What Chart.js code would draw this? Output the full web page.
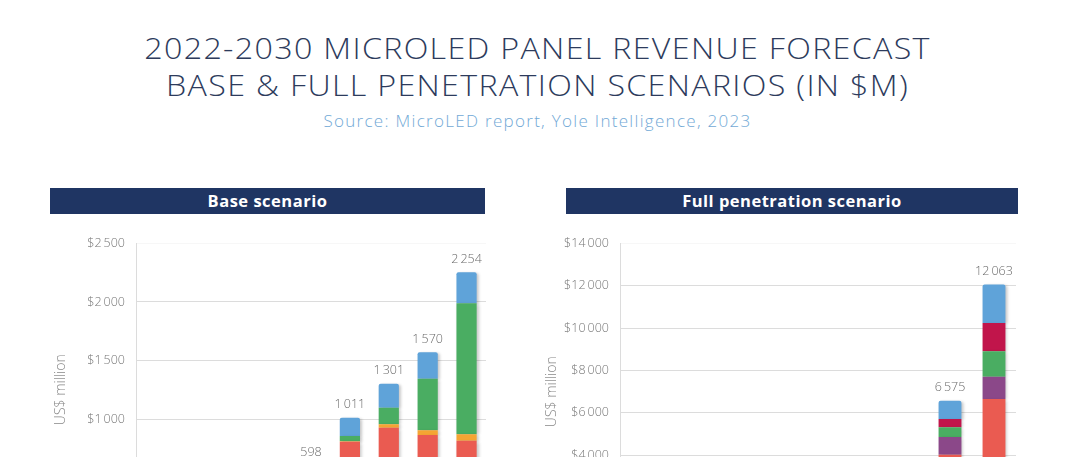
<!DOCTYPE html>
<html>
<head>
<meta charset="utf-8">
<script src="https://cdn.jsdelivr.net/npm/chart.js@4"></script>
<style>
  html, body { margin: 0; padding: 0; background: #fff; overflow: hidden; }
  body { width: 1075px; height: 457px; position: relative; font-family: "Open Sans", sans-serif; }
  .title { position: absolute; left: 0; width: 1075px; text-align: center; color: #2d3b5c; font-weight: 300; font-size: 29px; line-height: 37px; top: 29px; letter-spacing: 1.2px; transform: scaleX(1.11); transform-origin: 537px 0; }
  .source { position: absolute; left: 0; width: 1075px; text-align: center; color: #72a9d6; font-weight: 300; font-size: 17px; top: 109px; letter-spacing: 1.3px; }
  .bar { position: absolute; top: 188px; height: 26px; background: #1f3563; color: #fff; font-weight: 700; font-size: 16.5px; line-height: 26px; text-align: center; letter-spacing: 0.5px; }
  .box { position: absolute; top: 225px; }
</style>
</head>
<body>
<div class="title">2022-2030 MICROLED PANEL REVENUE FORECAST<br>BASE &amp; FULL PENETRATION SCENARIOS (IN $M)</div>
<div class="source">Source: MicroLED report, Yole Intelligence, 2023</div>

<div class="bar" style="left:50px;width:435px;">Base scenario</div>
<div class="bar" style="left:566px;width:452px;">Full penetration scenario</div>

<div class="box" style="left:40px;width:460px;height:351px;"><canvas id="base"></canvas></div>
<div class="box" style="left:540px;width:535px;height:355px;"><canvas id="full"></canvas></div>

<script>
const years = ["2022", "2023", "2024", "2025", "2026", "2027", "2028", "2029", "2030"];

// Base scenario (US$ million), bottom to top
const baseRed    = [2, 9, 52, 205, 520, 805, 926, 864, 814];
const baseOrange = [0, 0, 1, 3, 6, 5, 29, 40, 56];
const baseGreen  = [0, 0, 2, 10, 22, 45, 141, 441, 1120];
const baseBlue   = [0, 1, 5, 22, 50, 156, 205, 225, 264];

// Full penetration scenario (US$ million), bottom to top
const fullRed     = [2, 12, 45, 180, 620, 1250, 1800, 4020, 6660];
const fullPurple  = [0, 1, 5, 25, 90, 220, 350, 840, 1050];
const fullGreen   = [0, 0, 3, 12, 45, 120, 200, 467, 1200];
const fullCrimson = [0, 0, 2, 10, 40, 110, 170, 389, 1340];
const fullBlue    = [0, 2, 8, 30, 105, 250, 330, 859, 1813];

const baseTicks = [0, 500, 1000, 1500, 2000, 2500];
const fullTicks = [0, 2000, 4000, 6000, 8000, 10000, 12000, 14000];

const RED = "#ea5b51", ORANGE = "#f5a533", GREEN = "#4aad62", BLUE = "#5fa3d9";
const CRIMSON = "#c1154b", PURPLE = "#8b4889";

function fmt(n) {
  return String(Math.round(n)).replace(/\B(?=(\d{3})+(?!\d))/g, "\u2009");
}

// soft drop shadow behind the bars
const shadowPlugin = {
  id: "shadow",
  beforeDatasetsDraw(chart) {
    const ctx = chart.ctx;
    ctx.save();
    ctx.shadowColor = "rgba(0,0,0,0.22)";
    ctx.shadowBlur = 3;
    ctx.shadowOffsetX = 2;
    ctx.shadowOffsetY = 1;
  },
  afterDatasetsDraw(chart) {
    chart.ctx.restore();
  },
};

// totals above each stack
const totalsPlugin = {
  id: "totals",
  afterDatasetsDraw(chart) {
    const ctx = chart.ctx;
    const last = chart.data.datasets.length - 1;
    const meta = chart.getDatasetMeta(last);
    ctx.save();
    ctx.font = "300 12.5px 'Open Sans'";
    ctx.fillStyle = "#6b6b6b";
    ctx.textAlign = "center";
    ctx.textBaseline = "bottom";
    meta.data.forEach((bar, i) => {
      const total = chart.data.datasets.reduce((s, d) => s + d.data[i], 0);
      ctx.fillText(fmt(total), bar.x, bar.y - 7);
    });
    ctx.restore();
  },
};

function makeChart(el, series, ticks, yWidth, titlePad, padRight) {
  const lastIdx = series.length - 1;
  return new Chart(el, {
    type: "bar",
    data: {
      labels: years,
      datasets: series.map((s, i) => ({
        label: s.label,
        data: s.data,
        backgroundColor: s.color,
        barPercentage: 0.52,
        categoryPercentage: 1,
        borderRadius: i === lastIdx ? { topLeft: 2, topRight: 2 } : 0,
        borderSkipped: false,
      })),
    },
    options: {
      responsive: true,
      maintainAspectRatio: false,
      animation: false,
      layout: { padding: { top: 14, right: padRight, bottom: 0, left: 0 } },
      plugins: { legend: { display: false }, tooltip: { enabled: false } },
      scales: {
        x: {
          stacked: true,
          grid: { display: false },
          border: { display: false },
          ticks: { color: "#777", font: { family: "Open Sans", size: 11 } },
          afterFit(scale) { scale.height = 40; },
        },
        y: {
          stacked: true,
          min: 0,
          max: ticks[ticks.length - 1],
          afterBuildTicks(scale) { scale.ticks = ticks.map(v => ({ value: v })); },
          afterFit(scale) { scale.width = yWidth; },
          grid: {
            color: ctx => (ctx.tick && ctx.tick.value === ticks[ticks.length - 1]) ? "rgba(0,0,0,0.03)" : "#dcdcdc",
            drawTicks: false,
          },
          border: { display: true, color: "#dcdcdc" },
          ticks: {
            color: "#777",
            padding: 11,
            font: { family: "Open Sans", size: 12.5, weight: 300 },
            callback: v => "$" + fmt(v),
          },
          title: {
            display: true,
            text: "US$ million",
            color: "#888",
            padding: { top: titlePad, bottom: 0 },
            font: { family: "Open Sans", size: 14, weight: 300 },
          },
        },
      },
    },
    plugins: [shadowPlugin, totalsPlugin],
  });
}

makeChart(document.getElementById("base"), [
  { label: "Segment 1", data: baseRed, color: RED },
  { label: "Segment 2", data: baseOrange, color: ORANGE },
  { label: "Segment 3", data: baseGreen, color: GREEN },
  { label: "Segment 4", data: baseBlue, color: BLUE },
], baseTicks, 96, 13, 14);

makeChart(document.getElementById("full"), [
  { label: "Segment 1", data: fullRed, color: RED },
  { label: "Segment 5", data: fullPurple, color: PURPLE },
  { label: "Segment 3", data: fullGreen, color: GREEN },
  { label: "Segment 6", data: fullCrimson, color: CRIMSON },
  { label: "Segment 4", data: fullBlue, color: BLUE },
], fullTicks, 80, 4, 59);
</script>
</body>
</html>
